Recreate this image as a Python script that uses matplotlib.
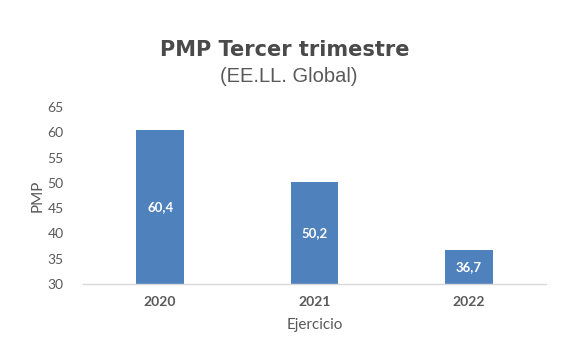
import matplotlib
matplotlib.use("Agg")
import matplotlib.pyplot as plt

years = ["2020", "2021", "2022"]
pmp = [60.4, 50.2, 36.7]
value_labels = ["60,4", "50,2", "36,7"]
yticks = [30, 35, 40, 45, 50, 55, 60, 65]

blue = "#4f81bd"
grey = "#595959"

plt.rcParams["font.family"] = ["Lato", "DejaVu Sans"]

fig = plt.figure(figsize=(5.7, 3.45), dpi=100)
ax = fig.add_axes([0.1456, 0.177, 0.8124, 0.513])

x = range(len(years))
bars = ax.bar(x, pmp, width=0.31, color=blue, bottom=0)

# value labels in the middle of the visible part of each bar
for xi, v, lab in zip(x, pmp, value_labels):
    ax.text(xi, (30 + v) / 2, lab, ha="center", va="center",
            color="white", fontsize=9.5, fontweight="bold")

ax.set_xlim(-0.5, 2.5)
ax.set_ylim(30, 65)
ax.set_yticks(yticks)
ax.set_xticks(list(x))
ax.set_xticklabels(years, fontweight="bold")
ax.tick_params(axis="both", length=0, colors=grey, labelsize=10)
ax.tick_params(axis="x", pad=9)
ax.tick_params(axis="y", pad=14)

for s in ["top", "right", "left"]:
    ax.spines[s].set_visible(False)
ax.spines["bottom"].set_color("#d9d9d9")
ax.spines["bottom"].set_linewidth(1)

ax.set_xlabel("Ejercicio", color=grey, fontsize=11, labelpad=7)
ax.set_ylabel("PMP", color=grey, fontsize=11, labelpad=2)

fig.text(0.5, 0.855, "PMP Tercer trimestre", ha="center", va="center",
         color="#4a4a4a", fontsize=15, fontweight="black", family="DejaVu Sans")
fig.text(0.507, 0.778, "(EE.LL. Global)", ha="center", va="center",
         color=grey, fontsize=14.5, family="Liberation Sans")

fig.savefig("out.png", dpi=100)
